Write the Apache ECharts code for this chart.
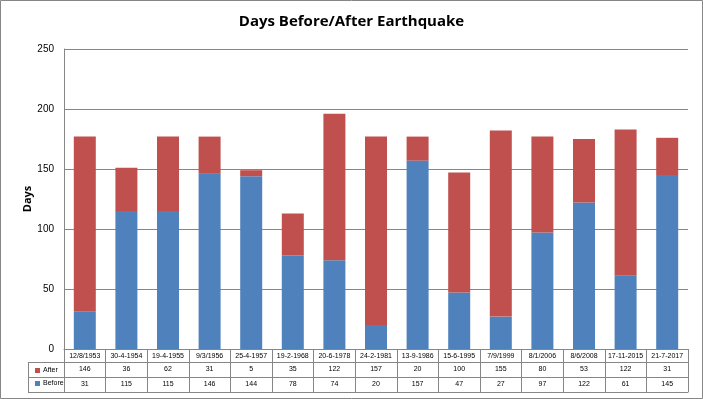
<!DOCTYPE html>
<html><head><meta charset="utf-8">
<script src="https://cdn.jsdelivr.net/npm/echarts@6/dist/echarts.min.js"></script>
<style>html,body{margin:0;padding:0;background:#fff}#c{width:703px;height:399px}</style>
</head><body><div id="c"></div>
<script>
var categories = ['12/8/1953','30-4-1954','19-4-1955','9/3/1956','25-4-1957','19-2-1968','20-6-1978','24-2-1981','13-9-1986','15-6-1995','7/9/1999','8/1/2006','8/6/2008','17-11-2015','21-7-2017'];
var afterVals = [146,36,62,31,5,35,122,157,20,100,155,80,53,122,31];
var beforeVals = [31,115,115,146,144,78,74,20,157,47,27,97,122,61,145];
var yTicks = [0,50,100,150,200,250];

var chart = echarts.init(document.getElementById('c'), null, {renderer:'canvas'});
var gridCol = '#868686';
var font = 'Liberation Sans';
function tableAxis(data, offset, tickLen, showLabel){
  return {
    type:'category', data:data, gridIndex:0, position:'bottom', offset:offset,
    axisLine:{show:true, lineStyle:{color:gridCol, width:1}},
    axisTick:{show:tickLen>0, length:tickLen, lineStyle:{color:gridCol}},
    axisLabel:{show:showLabel, interval:0, margin:4, fontSize:7, color:'#000', fontFamily:font},
    splitLine:{show:false}
  };
}
chart.setOption({
  animation:false,
  title:{text:'Days Before/After Earthquake', left:'center', top:9,
    textStyle:{fontSize:15, fontWeight:'bold', color:'#000', fontFamily:'Open Sans'}},
  grid:{left:64, right:15, top:49, bottom:50, containLabel:false},
  legend:{orient:'vertical', left:30, top:362, itemWidth:5, itemHeight:5, itemGap:6,
    icon:'rect', data:['After','Before'],
    textStyle:{fontSize:7, color:'#000', fontFamily:font, padding:[0,0,0,-2]}},
  xAxis:[
    tableAxis(categories, 0, 13, true),
    tableAxis(afterVals.map(String), 13, 15, true),
    tableAxis(beforeVals.map(String), 28, 15, true),
    tableAxis(categories.map(function(){return '';}), 43, 0, false)
  ],
  yAxis:{type:'value', min:yTicks[0], max:yTicks[yTicks.length-1], interval:50,
    name:'Days', nameLocation:'middle', nameGap:31, nameRotate:90, nameMoveOverlap:false,
    nameTextStyle:{fontSize:11, fontWeight:'bold', color:'#000', fontFamily:'Open Sans'},
    axisLine:{show:true, lineStyle:{color:gridCol}},
    axisTick:{show:false},
    axisLabel:{fontSize:10, color:'#000', margin:10, fontFamily:font},
    splitLine:{show:true, lineStyle:{color:gridCol, width:1}}},
  series:[
    {name:'Before', type:'bar', stack:'s', data:beforeVals, barWidth:22, itemStyle:{color:'#4F81BD'}, xAxisIndex:0},
    {name:'After', type:'bar', stack:'s', data:afterVals, barWidth:22, itemStyle:{color:'#C0504D'}, xAxisIndex:0}
  ],
  graphic:[
    {type:'rect', shape:{x:0.5,y:0.5,width:702,height:398}, style:{fill:'none', stroke:gridCol, lineWidth:1}, silent:true},
    {type:'line', shape:{x1:28,y1:362.5,x2:64,y2:362.5}, style:{stroke:gridCol,lineWidth:1}},
    {type:'line', shape:{x1:28,y1:377.5,x2:64,y2:377.5}, style:{stroke:gridCol,lineWidth:1}},
    {type:'line', shape:{x1:28,y1:392.5,x2:64,y2:392.5}, style:{stroke:gridCol,lineWidth:1}},
    {type:'line', shape:{x1:28.5,y1:362,x2:28.5,y2:393}, style:{stroke:gridCol,lineWidth:1}}
  ]
});
</script></body></html>
